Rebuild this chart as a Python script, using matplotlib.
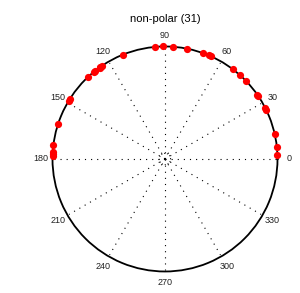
import numpy as np
import matplotlib
matplotlib.use("Agg")
import matplotlib.pyplot as plt

title = "non-polar (31)"
angles_deg = [1.9, 5.9, 12.8, 26.0, 26.9, 34.0, 34.9, 43.9, 48.0, 52.9,
              66.0, 67.0, 70.0, 78.9, 86.1, 91.0, 94.9,
              112.0, 124.3, 125.0, 125.6, 128.3, 129.0, 133.2,
              147.7, 149.0, 162.1, 173.0, 176.5, 177.5, 178.3]
radii = [1.0] * len(angles_deg)
tick_angles = [0, 30, 60, 90, 120, 150, 180, 210, 240, 270, 300, 330]
tick_labels = [str(a) for a in tick_angles]

plt.rcParams['font.family'] = ['Liberation Sans', 'DejaVu Sans']
fig = plt.figure(figsize=(3.0, 2.93), dpi=100)
ax = fig.add_axes([0.175, 0.0734, 0.75, 0.768], projection='polar')
ax.set_ylim(0, 1.0)
ax.grid(False)
ax.set_xticks([])
ax.set_yticks([])
ax.spines['polar'].set_linewidth(1.3)
ax.spines['polar'].set_color('black')
ax.spines['polar'].set_zorder(2)

# dotted spokes
for a in tick_angles:
    t = np.deg2rad(a)
    ax.plot([t, t], [0, 0.985], color='black', linestyle=(0, (1, 4.5)), linewidth=0.8)
# small inner circle
th = np.linspace(0, 2 * np.pi, 100)
ax.plot(th, np.full_like(th, 0.05), color='black', linestyle=(0, (1, 2)), linewidth=0.7)

# labels
for a, lab in zip(tick_angles, tick_labels):
    ax.text(np.deg2rad(a), 1.1, lab, ha='center', va='center', fontsize=6.5, color='#222222')

ax.plot(np.deg2rad(angles_deg), radii, 'o', color='#ff0000', markersize=5.2,
        markeredgewidth=0, clip_on=False, zorder=10)

fig.text(0.55, 0.935, title, ha='center', va='center', fontsize=8)
fig.savefig('out.png', dpi=100)
